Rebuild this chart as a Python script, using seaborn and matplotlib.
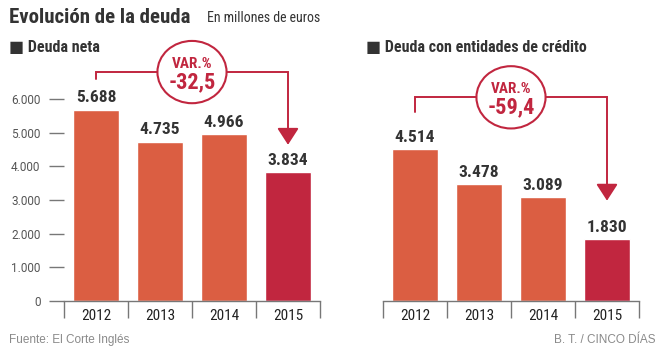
import matplotlib
matplotlib.use("Agg")
import matplotlib.pyplot as plt
from matplotlib.patches import Ellipse
from matplotlib import font_manager
import seaborn as sns
import pandas as pd

years = ["2012", "2013", "2014", "2015"]
deuda_neta = [5688, 4735, 4966, 3834]
deuda_credito = [4514, 3478, 3089, 1830]
var_neta = "-32,5"
var_credito = "-59,4"
yticks = [0, 1000, 2000, 3000, 4000, 5000, 6000]

ORANGE = "#DB5E42"
CRIMSON = "#C1263F"
DARK = "#333333"
GRAY = "#555555"

sns.set_theme(style="white")
names = {f.name for f in font_manager.fontManager.ttflist}
main_font = "DejaVu Sans"
for cand in ["Roboto Condensed", "Liberation Sans Narrow", "Open Sans Condensed", "Roboto"]:
    if cand in names:
        main_font = cand
        break
plain_font = "Roboto" if "Roboto" in names else "Liberation Sans"
plt.rcParams["font.family"] = [main_font, "DejaVu Sans"]

W, H = 664, 352
fig = plt.figure(figsize=(W / 100, H / 100), dpi=100)


def fmt(v):
    return f"{int(round(v)):,}".replace(",", ".")


def px_axes(x0, x1, ytop, ybot):
    return fig.add_axes([x0 / W, 1 - ybot / H, (x1 - x0) / W, (ybot - ytop) / H])


def panel(ax, values, var_text, y_start, y_line, y_tip):
    df = pd.DataFrame({"year": years, "value": values})
    colors = [ORANGE] * (len(values) - 1) + [CRIMSON]
    sns.barplot(data=df, x="year", y="value", hue="year", palette=colors,
                legend=False, width=0.73, ax=ax, saturation=1)
    ax.set_xlim(-0.5, 3.5)
    ax.set_ylim(0, 6000)
    ax.set_xlabel("")
    ax.set_ylabel("")
    for c in ax.containers:
        ax.bar_label(c, labels=[fmt(v) for v in c.datavalues], padding=3,
                     fontsize=12.5, fontweight="bold", color=DARK)
    for s in ["top", "right", "left"]:
        ax.spines[s].set_visible(False)
    ax.spines["bottom"].set_color("#777777")
    ax.spines["bottom"].set_linewidth(1)
    ax.set_xticks([-0.5, 0.5, 1.5, 2.5, 3.5], minor=True)
    ax.tick_params(axis="x", which="minor", length=12, width=1, color="#777777",
                   direction="out", bottom=True)
    ax.tick_params(axis="x", which="major", length=0, pad=6, labelsize=11,
                   labelcolor="#222222")
    # connector line and arrow
    ax.plot([0, 0, 3, 3], [y_start, y_line, y_line, y_tip + 300],
            color=CRIMSON, lw=1.4, clip_on=False, solid_joinstyle="miter")
    ax.annotate("", xy=(3, y_tip), xytext=(3, y_tip + 360),
                arrowprops=dict(arrowstyle="-|>,head_width=0.55,head_length=0.85",
                                color=CRIMSON, lw=1.4, shrinkA=0, shrinkB=0),
                annotation_clip=False)
    ax.add_patch(Ellipse((1.5, y_line), 1.08, 1850, facecolor="white",
                         edgecolor=CRIMSON, lw=1.5, clip_on=False, zorder=5))
    ax.text(1.5, y_line + 120, "VAR.%", ha="center", va="baseline", fontsize=11,
            fontweight="bold", color=CRIMSON, zorder=6, clip_on=False)
    ax.text(1.5, y_line - 470, var_text, ha="center", va="baseline", fontsize=16,
            fontweight="bold", color=CRIMSON, zorder=6, clip_on=False)


ax1 = px_axes(64, 320, 99, 301)
panel(ax1, deuda_neta, var_neta, 6600, 6800, 4640)
ax1.set_yticks(yticks)
ax1.set_yticklabels([fmt(v) for v in yticks], family=[plain_font, "DejaVu Sans"])
ax1.tick_params(axis="y", left=True, length=11, width=1, color="#777777",
                pad=6, labelsize=8.5, labelcolor=GRAY, direction="out")

ax2 = px_axes(383, 639, 99, 301)
panel(ax2, deuda_credito, var_credito, 5610, 6050, 2980)
ax2.set_yticks([])

fig.text(9 / W, 1 - 23 / H, "Evolución de la deuda", fontsize=15,
         fontweight="bold", color=DARK, va="baseline")
fig.text(207 / W, 1 - 22 / H, "En millones de euros", fontsize=10,
         color=DARK, va="baseline")
fig.text(9 / W, 1 - 52 / H, "■ Deuda neta", fontsize=11.5, fontweight="bold",
         color=DARK, va="baseline")
fig.text(366 / W, 1 - 52 / H, "■ Deuda con entidades de crédito", fontsize=11.5,
         fontweight="bold", color=DARK, va="baseline")
fig.text(9 / W, 1 - 343 / H, "Fuente: El Corte Inglés", fontsize=8.5,
         color="#8a8a8a", va="baseline", family=["Liberation Sans", "DejaVu Sans"])
fig.text(655 / W, 1 - 343 / H, "B. T. / CINCO DÍAS", fontsize=8.5, ha="right",
         color="#8a8a8a", va="baseline", family=["Liberation Sans", "DejaVu Sans"])

fig.savefig("out.png", dpi=100, facecolor="white")
